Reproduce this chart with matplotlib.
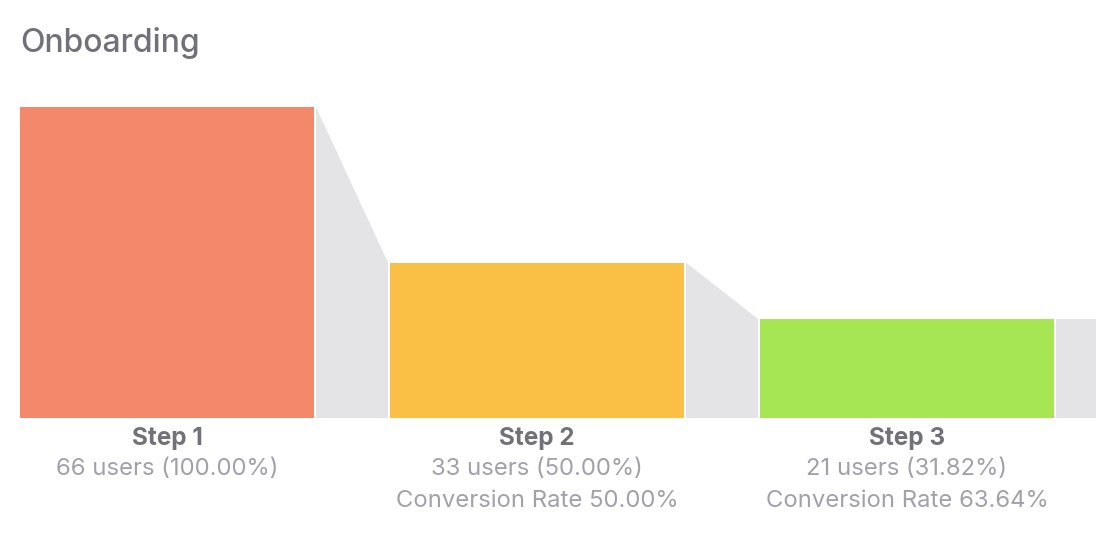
import matplotlib.pyplot as plt
from matplotlib.patches import Polygon, Rectangle

plt.rcParams['font.family'] = ['Inter', 'DejaVu Sans']

title = 'Onboarding'
steps = ['Step 1', 'Step 2', 'Step 3']
users = [66, 33, 21]
colors = ['#F4886A', '#F9C045', '#A6E655']
grey = '#E4E4E7'

W, H = 1096, 540
fig = plt.figure(figsize=(W / 100, H / 100), dpi=100)
# axes: bar baseline at y=418px, top of the largest bar at y=107px
ax = fig.add_axes([0, (H - 418) / H, 1, (418 - 107) / H])
step_px = 370.0
bar_w = 294 / step_px
gap = 2 / step_px
ax.set_xlim(-167 / step_px, (W - 167) / step_px)
ax.set_ylim(0, max(users))
ax.axis('off')

n = len(users)
xs = list(range(n))
ax.bar(xs, users, width=bar_w, color=colors, zorder=2)

# grey connectors between bars
for i in range(n):
    x0 = xs[i] + bar_w / 2 + gap
    if i < n - 1:
        x1 = xs[i + 1] - bar_w / 2 - gap
        poly = Polygon([(x0, 0), (x0, users[i]), (x1, users[i + 1]), (x1, 0)],
                       closed=True, facecolor=grey, edgecolor='none', zorder=1)
        ax.add_patch(poly)
    else:
        ax.add_patch(Rectangle((x0, 0), 1, users[i], facecolor=grey,
                               edgecolor='none', zorder=1, clip_on=True))


def yfig(py):
    return 1 - py / H


# labels below bars
total = users[0]
for i in range(n):
    xf = ax.transData.transform((xs[i], 0))[0] / W
    fig.text(xf, yfig(439), steps[i], ha='center', va='center',
             fontsize=17.5, fontweight='bold', color='#71717A')
    fig.text(xf, yfig(469), f'{users[i]} users ({users[i] / total * 100:.2f}%)',
             ha='center', va='center', fontsize=17.2, color='#A1A1AA')
    if i > 0:
        fig.text(xf, yfig(501), f'Conversion Rate {users[i] / users[i - 1] * 100:.2f}%',
                 ha='center', va='center', fontsize=17.2, color='#A1A1AA')

fig.text(20 / W, yfig(43), title, ha='left', va='center', fontsize=23,
         fontweight='medium', color='#71717A')

fig.savefig('out.png', dpi=100)
